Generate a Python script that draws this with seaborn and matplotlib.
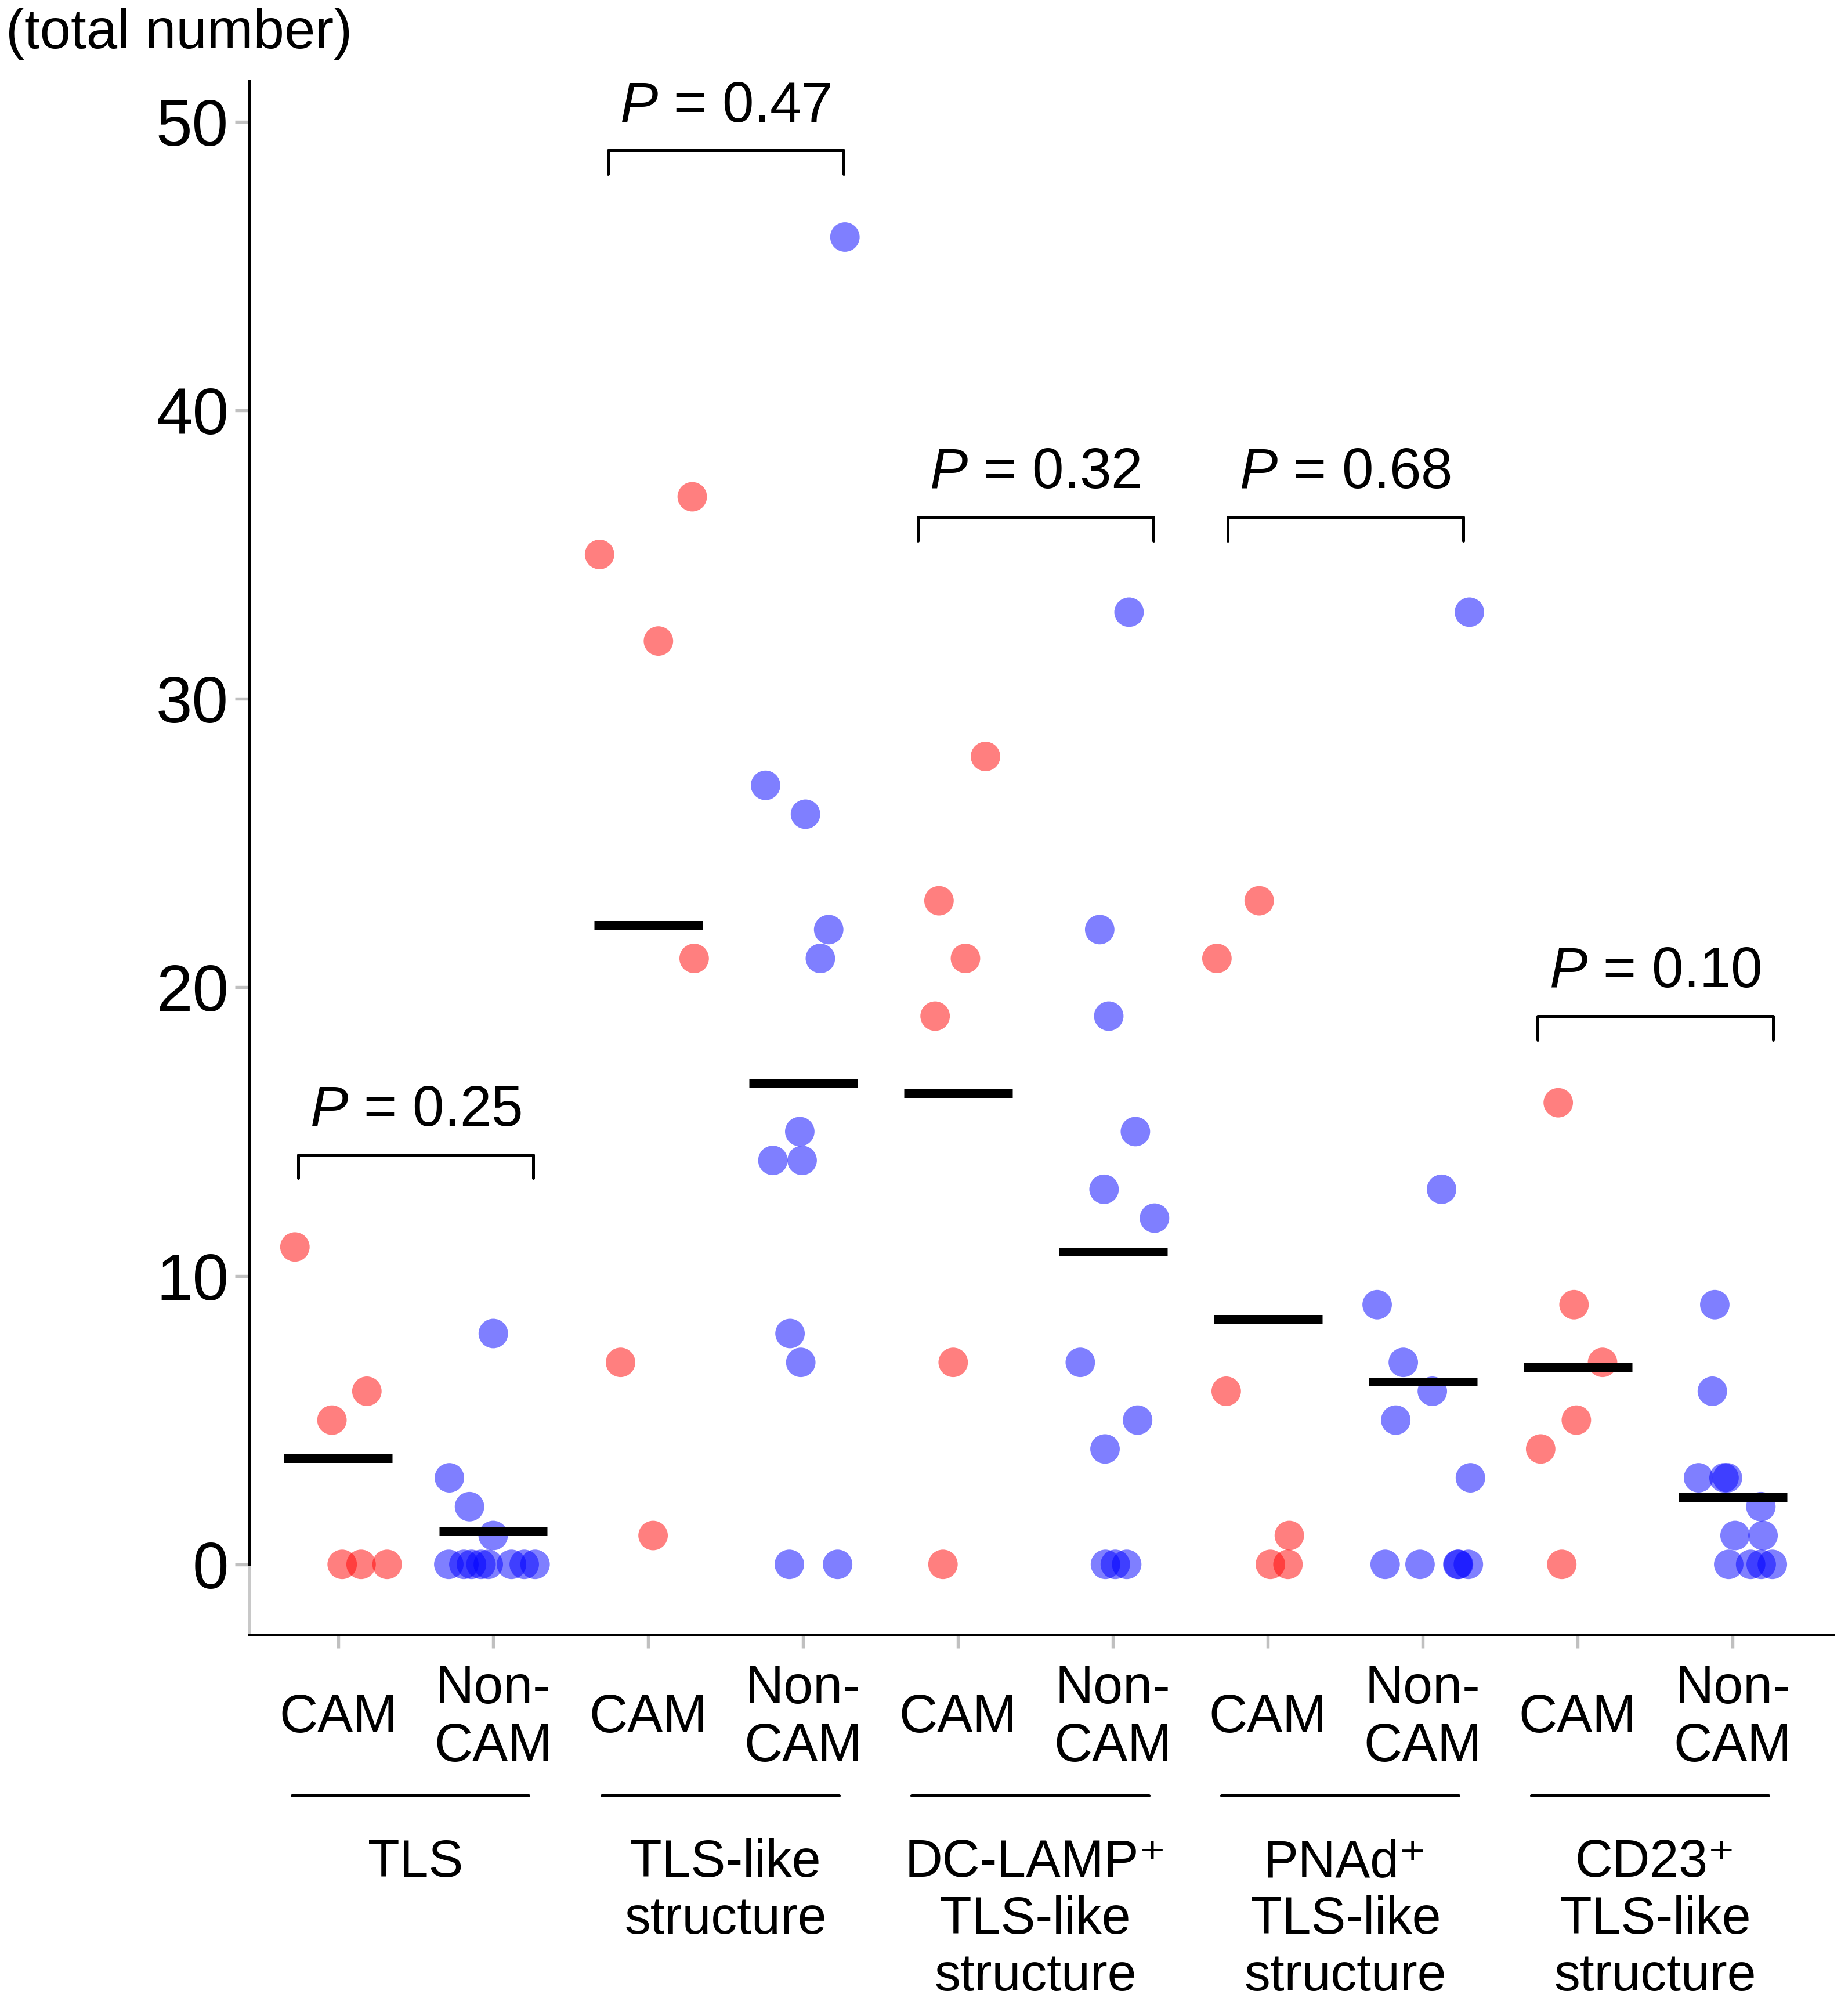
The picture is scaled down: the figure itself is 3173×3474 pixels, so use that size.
import numpy as np
import pandas as pd
import seaborn as sns
import matplotlib.pyplot as plt
from matplotlib.transforms import blended_transform_factory

# structure groups and the two cohorts inside each
structures = ['TLS',
              'TLS-like\nstructure',
              'DC-LAMP\u207a\nTLS-like\nstructure',
              'PNAd\u207a\nTLS-like\nstructure',
              'CD23\u207a\nTLS-like\nstructure']
cohorts = ['CAM', 'Non-CAM']
cohort_ticks = ['CAM', 'Non-\nCAM']
p_values = ['0.25', '0.47', '0.32', '0.68', '0.10']

# total number per case
tls_cam = [11, 6, 5, 0, 0, 0]
tls_non = [8, 3, 2, 1, 0, 0, 0, 0, 0, 0, 0, 0]
like_cam = [37, 35, 32, 21, 7, 1]
like_non = [46, 27, 26, 22, 21, 15, 14, 14, 8, 7, 0, 0]
dc_cam = [28, 23, 21, 19, 7, 0]
dc_non = [33, 22, 19, 15, 13, 12, 7, 5, 4, 0, 0, 0]
pnad_cam = [23, 21, 6, 1, 0, 0]
pnad_non = [33, 13, 9, 7, 6, 5, 3, 0, 0, 0, 0, 0]
cd23_cam = [16, 9, 7, 5, 4, 0]
cd23_non = [9, 6, 3, 3, 3, 2, 1, 1, 0, 0, 0, 0]

group_values = [(tls_cam, tls_non), (like_cam, like_non), (dc_cam, dc_non),
                (pnad_cam, pnad_non), (cd23_cam, cd23_non)]

rows = []
for i, pair in enumerate(group_values):
    for cohort, vals in zip(cohorts, pair):
        for v in vals:
            rows.append({'key': f'{i}-{cohort}', 'cohort': cohort, 'count': v})
df = pd.DataFrame(rows)
order = [f'{i}-{c}' for i in range(len(structures)) for c in cohorts]

sns.set_style('white')
plt.rcParams['font.family'] = ['Liberation Sans', 'DejaVu Sans']
plt.rcParams['mathtext.fontset'] = 'custom'
plt.rcParams['mathtext.rm'] = 'Liberation Sans'
plt.rcParams['mathtext.it'] = 'Liberation Sans:italic'
plt.rcParams['text.color'] = 'black'
plt.rcParams['xtick.labelcolor'] = 'black'
plt.rcParams['ytick.labelcolor'] = 'black'

fig = plt.figure(figsize=(3173 / 300, 3474 / 300), dpi=300)
ax = fig.add_axes([0.1355, 0.1891, 0.8604, 0.7706])

np.random.seed(7)
sns.stripplot(data=df, x='key', y='count', hue='cohort', order=order,
              palette={'CAM': 'red', 'Non-CAM': 'blue'}, jitter=0.33,
              size=12.2, alpha=0.5, linewidth=0, legend=False, ax=ax, zorder=2)

# group means as thick black bars
means = df.groupby('key')['count'].mean().reindex(order)
pos = np.arange(len(order))
ax.hlines(means.values, pos - 0.35, pos + 0.35, color='black', lw=3.6, zorder=4)

ax.set_xlim(-0.573, 9.65)
ax.set_ylim(-2.44, 51.4)
ax.set_yticks([0, 10, 20, 30, 40, 50])
ax.set_xticks(pos)
ax.set_xticklabels(cohort_ticks * len(structures))
ax.set_xlabel('')
ax.set_ylabel('')

sns.despine(ax=ax)
ax.spines['left'].set_bounds(0, 51.4)
ax.spines['left'].set_linewidth(1.0)
ax.spines['left'].set_color('black')
ax.spines['bottom'].set_linewidth(1.2)
ax.spines['bottom'].set_color('black')
ax.plot([-0.573, -0.573], [-2.44, 0], color='#c8c8c8', lw=1.2, clip_on=False)

ax.tick_params(axis='y', direction='out', length=6, width=1.3, color='#c0c0c0',
               labelsize=27, pad=2.6, left=True, labelcolor='black')
ax.tick_params(axis='x', direction='out', length=5.5, width=1.3, color='#c0c0c0',
               labelsize=22, pad=29, bottom=True, labelcolor='black')
for lab in ax.get_xticklabels():
    lab.set_va('center')

# significance brackets
bracket_y = [14.2, 49.0, 36.3, 36.3, 19.0]
for i, (p, y) in enumerate(zip(p_values, bracket_y)):
    mid = 2 * i + 0.5
    x0, x1 = mid - 0.76, mid + 0.76
    ax.plot([x0, x0, x1, x1], [y - 0.82, y, y, y - 0.82], color='black', lw=1.2,
            clip_on=False, zorder=3)
    ax.text(mid, y + 1.0, f'$P$ = {p}', ha='center', va='baseline', fontsize=23.5,
            color='black')

# structure labels under the cohort ticks
trans = blended_transform_factory(ax.transData, ax.transAxes)
for i, name in enumerate(structures):
    left, right = 2 * i - 0.30, 2 * i + 1 + 0.23
    ax.plot([left, right], [-0.1035, -0.1035], color='black', lw=1.2,
            transform=trans, clip_on=False)
    ax.text(2 * i + 0.5, -0.131, name, transform=trans, ha='center', va='top',
            fontsize=21.5, linespacing=1.2, color='black')

fig.text(0.0032, 0.976, '(total number)', ha='left', va='baseline', fontsize=23,
         color='black')

fig.savefig('out.png', dpi=300)
